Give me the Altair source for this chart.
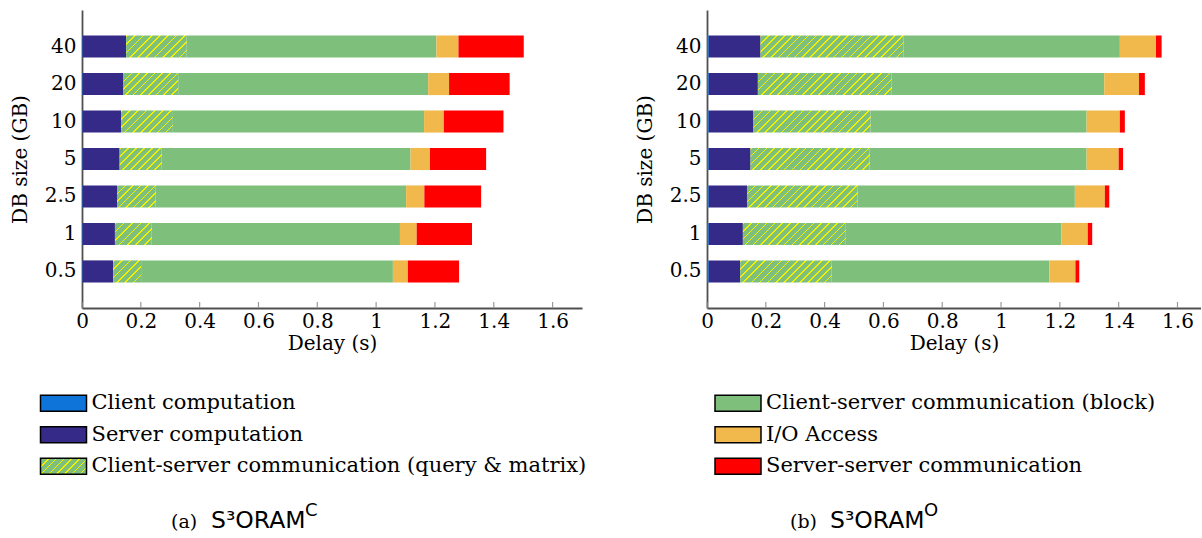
import altair as alt
import pandas as pd

# ---------------- data ----------------
sizes = ["0.5", "1", "2.5", "5", "10", "20", "40"]
size_order = ["40", "20", "10", "5", "2.5", "1", "0.5"]
segments = [
    "Client computation",
    "Server computation",
    "Client-server communication (query & matrix)",
    "Client-server communication (block)",
    "I/O Access",
    "Server-server communication",
]
HATCH = segments[2]
seg_colors = ["#0f74d9", "#352a87", "#7dbf7b", "#7dbf7b", "#f1b94b", "#ff0000"]

# (a) S3ORAM^C  - durations (s) per DB size
c_client = [0.002, 0.002, 0.002, 0.002, 0.002, 0.002, 0.002]
c_server = [0.104, 0.110, 0.117, 0.126, 0.131, 0.139, 0.148]
c_query = [0.095, 0.125, 0.131, 0.143, 0.176, 0.186, 0.206]
c_block = [0.856, 0.844, 0.852, 0.846, 0.854, 0.850, 0.849]
c_io = [0.051, 0.057, 0.062, 0.066, 0.067, 0.071, 0.075]
c_ss = [0.174, 0.188, 0.193, 0.191, 0.203, 0.206, 0.222]

# (b) S3ORAM^O
o_client = [0.006, 0.006, 0.006, 0.006, 0.006, 0.006, 0.006]
o_server = [0.107, 0.116, 0.130, 0.142, 0.152, 0.167, 0.176]
o_query = [0.311, 0.350, 0.376, 0.405, 0.398, 0.455, 0.486]
o_block = [0.740, 0.733, 0.739, 0.738, 0.735, 0.723, 0.736]
o_io = [0.089, 0.090, 0.102, 0.109, 0.113, 0.118, 0.123]
o_ss = [0.013, 0.015, 0.015, 0.015, 0.017, 0.020, 0.019]

ticks = [0, 0.2, 0.4, 0.6, 0.8, 1.0, 1.2, 1.4, 1.6]
captions = [("(a)", "S³ORAM", "C"), ("(b)", "S³ORAM", "O")]

# ---------------- style / layout ----------------
SERIF = "DejaVu Serif"
SANS = "DejaVu Sans"
PLOT_H = 298
PI, PO = 0.41, 0.68
AXIS_COLOR = "#505050"
X0 = 83      # absolute x of bottom chart origin (aligned with left plot)
Y0 = 352.5   # absolute y of bottom chart origin


def stacked(parts):
    rows = []
    for i, s in enumerate(sizes):
        start = 0.0
        for seg, vals in zip(segments, parts):
            rows.append({"size": s, "segment": seg, "start": start, "end": start + vals[i]})
            start += vals[i]
    return pd.DataFrame(rows)


def hatch_gradient(W, H, period=8.0, frac=0.2, base="#7dbf7b", line="#f2f200"):
    n = max(1, int(round((W + H) / period)))
    k = (W + H) / (W * W + H * H)
    stops = []
    for j in range(n):
        a = j / n
        b = (j + frac) / n
        c = (j + 1) / n
        stops += [
            alt.GradientStop(offset=a, color=line),
            alt.GradientStop(offset=b, color=line),
            alt.GradientStop(offset=b, color=base),
            alt.GradientStop(offset=c, color=base),
        ]
    return alt.LinearGradient(gradient="linear", stops=stops, x1=0, y1=0, x2=W * k, y2=H * k)


def panel(parts, width, xmax):
    df = stacked(parts)
    ppu = width / xmax
    step = PLOT_H / (len(sizes) - PI + 2 * PO)
    bar_h = step * (1 - PI)

    yenc = alt.Y(
        "size:N",
        sort=size_order,
        scale=alt.Scale(paddingInner=PI, paddingOuter=PO),
        axis=alt.Axis(
            title="DB size (GB)", ticks=False, labelPadding=6, titlePadding=14,
            labelFont=SERIF, labelFontSize=20, labelColor="black",
            titleFont=SERIF, titleFontSize=20, titleFontWeight="normal", titleColor="black",
            domainColor=AXIS_COLOR, domainWidth=1.8,
        ),
    )

    def xenc(field):
        return alt.X(
            field,
            scale=alt.Scale(domain=[0, xmax], nice=False, zero=True),
            axis=alt.Axis(
                title="Delay (s)", values=ticks, format="~g", grid=False, ticks=False,
                labelPadding=3, titlePadding=2,
                labelFont=SERIF, labelFontSize=20, labelColor="black",
                titleFont=SERIF, titleFontSize=20, titleFontWeight="normal", titleColor="black",
                domainColor=AXIS_COLOR, domainWidth=1.8, labelFlush=False,
            ),
        )

    solid = alt.Chart(df[df.segment != HATCH]).mark_bar().encode(
        x=xenc("start:Q"), x2="end:Q", y=yenc,
        color=alt.Color("segment:N", scale=alt.Scale(domain=segments, range=seg_colors), legend=None),
    )
    layers = [solid]
    for _, r in df[df.segment == HATCH].iterrows():
        W = (r["end"] - r["start"]) * ppu
        one = pd.DataFrame([{"size": r["size"], "start": r["start"], "end": r["end"]}])
        layers.append(
            alt.Chart(one).mark_bar(fill=hatch_gradient(W, bar_h)).encode(
                x=xenc("start:Q"), x2="end:Q", y=yenc
            )
        )
    tk = alt.Chart(pd.DataFrame({"t": ticks})).mark_rule(color="#9a9a9a", strokeWidth=1.2).encode(
        x=xenc("t:Q"), y=alt.value(PLOT_H - 6), y2=alt.value(PLOT_H)
    )
    layers.append(tk)
    return alt.layer(*layers).properties(width=width, height=PLOT_H)


left = panel([c_client, c_server, c_query, c_block, c_io, c_ss], 500, 1.7)
right = panel([o_client, o_server, o_query, o_block, o_io, o_ss], 494, 1.68)
top = alt.hconcat(left, right, spacing=53)

# ---------------- legend + captions ----------------
BW, BH = 1100, 180
leg = pd.DataFrame({
    "label": segments,
    "col": [0, 0, 0, 1, 1, 1],
    "row": [0, 1, 2, 0, 1, 2],
})
lx = alt.X("col:Q", scale=alt.Scale(domain=[0, 1], range=[64.5 - X0, 739 - X0]), axis=None)
ly = alt.Y("row:Q", scale=alt.Scale(domain=[0, 2], range=[402.7 - Y0, 465.8 - Y0]), axis=None)
SW, SH = 46, 16
shape = "M-1,-{h}H1V{h}H-1Z".format(h=round(SH / SW, 4))

sw_solid = alt.Chart(leg[leg.label != HATCH]).mark_point(
    shape=shape, size=SW * SW, filled=True, opacity=1, stroke="black", strokeWidth=1.5
).encode(
    x=lx, y=ly,
    fill=alt.Fill("label:N", scale=alt.Scale(domain=segments, range=seg_colors), legend=None),
)
sw_hatch = alt.Chart(leg[leg.label == HATCH]).mark_point(
    shape=shape, size=SW * SW, filled=True, opacity=1, stroke="black", strokeWidth=1.5,
    fill=hatch_gradient(SW, SH),
).encode(x=lx, y=ly)
leg_text = alt.Chart(leg).mark_text(
    align="left", baseline="middle", dx=28, font=SERIF, fontSize=21, color="black"
).encode(x=lx, y=ly, text="label:N")

cap_layers = []
cap_pos = [(172, 212, 306), (791, 831, 925)]
for (tag, name, sup), (xa, xb, xc) in zip(captions, cap_pos):
    cap_layers.append(alt.Chart(pd.DataFrame({"t": [tag]})).mark_text(
        align="left", baseline="alphabetic", font=SERIF, fontSize=19, color="black"
    ).encode(text="t:N", x=alt.value(xa - X0), y=alt.value(527 - Y0)))
    cap_layers.append(alt.Chart(pd.DataFrame({"t": [name]})).mark_text(
        align="left", baseline="alphabetic", font=SANS, fontSize=23.5, color="black"
    ).encode(text="t:N", x=alt.value(xb - X0), y=alt.value(527 - Y0)))
    cap_layers.append(alt.Chart(pd.DataFrame({"t": [sup]})).mark_text(
        align="left", baseline="alphabetic", font=SANS, fontSize=18, color="black"
    ).encode(text="t:N", x=alt.value(xc - X0), y=alt.value(515 - Y0)))

bottom = alt.layer(sw_solid, sw_hatch, leg_text, *cap_layers).properties(width=BW, height=BH)

chart = alt.vconcat(top, bottom, spacing=0).properties(
    padding={"left": 10, "top": 10, "right": 0, "bottom": 0},
    background="white",
).configure_view(stroke=None)

chart.save("out.html", embed_options={"renderer": "svg", "actions": False})
